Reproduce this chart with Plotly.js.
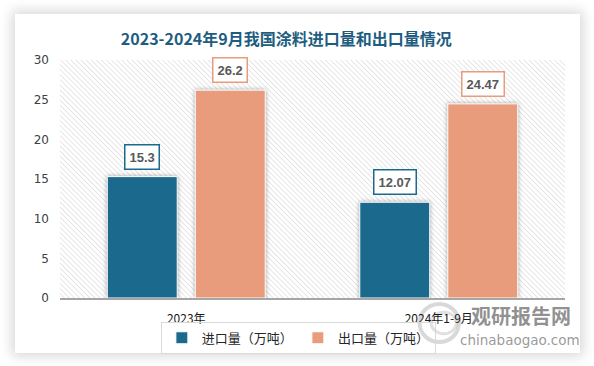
<!DOCTYPE html>
<html>
<head>
<meta charset="utf-8">
<script src="https://cdn.plot.ly/plotly-3.0.1.min.js"></script>
<style>
  html, body { margin: 0; padding: 0; background: #ffffff; }
  #wrap { position: relative; width: 594px; height: 366px; overflow: hidden; background: #fff; }
  #card { position: absolute; left: 15px; top: 14px; width: 565px; height: 339px; background: #fff;
          box-shadow: 0 0 12px 3px rgba(0,0,0,0.16); }
  #chart { position: absolute; left: 0; top: 0; width: 594px; height: 366px; }
  #chart .trace.bars path { filter: drop-shadow(0 0 2px rgba(0,0,0,0.35)); }
</style>
</head>
<body>
<div id="wrap">
  <div id="card"></div>
  <div id="chart"></div>
</div>
<script>
const categories = ["2023年", "2024年1-9月"];
const importValues = [15.3, 12.07];
const exportValues = [26.2, 24.47];
const importLabels = ["15.3", "12.07"];
const exportLabels = ["26.2", "24.47"];
const seriesNames = ["进口量（万吨）", "出口量（万吨）"];
const yTicks = [0, 5, 10, 15, 20, 25, 30];

const blue = "#1b6a8d";
const salmon = "#e89c7b";
const bargap = 0.303;
const bargroupgap = 0.205;
const slot = (1 - bargap) / 2;

const hatchSvg = "<svg xmlns='http://www.w3.org/2000/svg' width='505' height='238'>" +
  "<defs><pattern id='p' width='3.6' height='3.6' patternUnits='userSpaceOnUse' patternTransform='rotate(-45)'>" +
  "<line x1='0' y1='0' x2='0' y2='3.6' stroke='#cdcdcd' stroke-width='1'/></pattern></defs>" +
  "<rect width='100%' height='100%' fill='url(#p)'/></svg>";
const hatchUri = "data:image/svg+xml;charset=utf-8," + encodeURIComponent(hatchSvg);

const traces = [
  { type: "bar", name: seriesNames[0], x: categories, y: importValues,
    marker: { color: blue, line: { color: "#ffffff", width: 1 } }, hoverinfo: "none" },
  { type: "bar", name: seriesNames[1], x: categories, y: exportValues,
    marker: { color: salmon, line: { color: "#ffffff", width: 1 } }, hoverinfo: "none" }
];

const annotations = [];
categories.forEach((c, i) => {
  annotations.push({ x: i - slot / 2, y: importValues[i], xref: "x", yref: "y",
    text: "<b>" + importLabels[i] + "</b>", showarrow: false, yanchor: "bottom", yshift: 7,
    font: { family: "Liberation Sans, Arial, sans-serif", size: 13, color: "#595959" },
    bgcolor: "#ffffff", bordercolor: blue, borderwidth: 1.5, borderpad: 4 });
  annotations.push({ x: i + slot / 2, y: exportValues[i], xref: "x", yref: "y",
    text: "<b>" + exportLabels[i] + "</b>", showarrow: false, yanchor: "bottom", yshift: 7,
    font: { family: "Liberation Sans, Arial, sans-serif", size: 13, color: "#595959" },
    bgcolor: "#ffffff", bordercolor: salmon, borderwidth: 1.5, borderpad: 4 });
});
annotations.push({ xref: "paper", yref: "paper", x: 0.912, xanchor: "center", y: -0.075, yanchor: "middle",
  text: "<b>观研报告网</b>",
  showarrow: false, font: { family: "Noto Sans CJK SC", size: 20, color: "rgba(125,125,125,0.85)" } });
annotations.push({ xref: "paper", yref: "paper", x: 0.91, xanchor: "center", y: -0.178, yanchor: "middle",
  text: "chinabaogao.com",
  showarrow: false, font: { family: "DejaVu Sans, sans-serif", size: 13.5, color: "rgba(135,135,135,0.85)" } });

const layout = {
  width: 594, height: 366,
  margin: { l: 60, r: 29, t: 60, b: 68 },
  paper_bgcolor: "rgba(0,0,0,0)",
  plot_bgcolor: "rgba(0,0,0,0)",
  barmode: "group", bargap: bargap, bargroupgap: bargroupgap,
  title: { text: "<b>2023-2024年9月我国涂料进口量和出口量情况</b>", xref: "container", x: 0.482,
    xanchor: "center", yref: "container", y: 0.893, yanchor: "middle",
    font: { family: "Noto Sans CJK SC", size: 16, color: "#1e5d80" } },
  xaxis: { type: "category", showgrid: false, showline: true, linecolor: "#a6a6a6", linewidth: 1.5,
    ticks: "", ticklabelstandoff: 9,
    tickfont: { family: "Noto Sans CJK SC", size: 12, color: "#1a1a1a" }, fixedrange: true },
  yaxis: { range: [0, 30], tickvals: yTicks, showgrid: false, zeroline: false, showline: false,
    ticks: "", ticklabelstandoff: 10,
    tickfont: { family: "DejaVu Sans, sans-serif", size: 12, color: "#404040" }, fixedrange: true },
  legend: { orientation: "h", x: 0.472, xanchor: "center", y: -0.1, yanchor: "top",
    bordercolor: "#d9d9d9", borderwidth: 1, bgcolor: "rgba(255,255,255,0)",
    font: { family: "Noto Sans CJK SC", size: 13, color: "#262626" }, itemwidth: 30,
    traceorder: "normal" },
  images: [{ source: hatchUri, xref: "paper", yref: "paper", x: 0, y: 1, sizex: 1, sizey: 1,
    xanchor: "left", yanchor: "top", sizing: "stretch", layer: "below" }],
  shapes: [
    { type: "circle", xref: "paper", yref: "paper", x0: 0.712, x1: 0.79, y0: -0.185, y1: -0.025,
      line: { color: "rgba(170,170,170,0.45)", width: 4 }, fillcolor: "rgba(0,0,0,0)", layer: "below" },
    { type: "circle", xref: "paper", yref: "paper", x0: 0.735, x1: 0.785, y0: -0.15, y1: -0.06,
      line: { color: "rgba(170,170,170,0.35)", width: 3 }, fillcolor: "rgba(0,0,0,0)", layer: "below" }
  ],
  annotations: annotations,
  showlegend: true
};

Plotly.newPlot("chart", traces, layout, { displayModeBar: false, staticPlot: true });
</script>
</body>
</html>
